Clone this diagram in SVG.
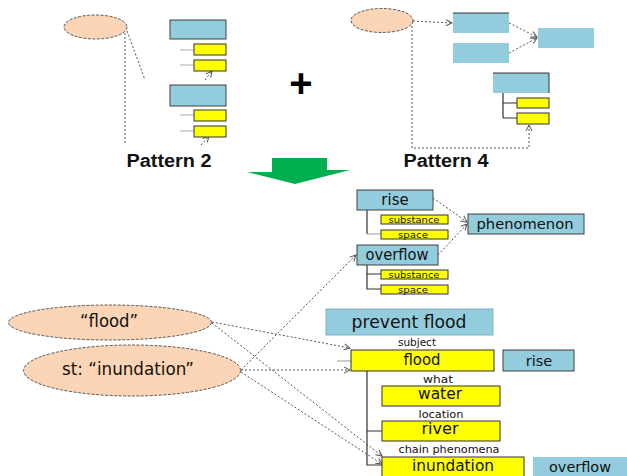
<svg xmlns="http://www.w3.org/2000/svg" width="627" height="476" viewBox="0 0 627 476">
<defs>
<marker id="arr" markerWidth="8" markerHeight="8" refX="7" refY="4" orient="auto" markerUnits="userSpaceOnUse">
<path d="M1,1 L7,4 L1,7" fill="none" stroke="#555" stroke-width="1"/>
</marker>
<style>
.ell{fill:#fbd5b5;stroke:#555;stroke-width:1;stroke-dasharray:3,1.5}
.blue{fill:#93cddd;stroke:#404040;stroke-width:1}
.bluenb{fill:#93cddd;stroke:none}
.yel{fill:#ffff00;stroke:#333;stroke-width:1}
.dot{fill:none;stroke:#555;stroke-width:1;stroke-dasharray:2,2}
.darr{fill:none;stroke:#555;stroke-width:1;stroke-dasharray:2,2;marker-end:url(#arr)}
.tree{fill:none;stroke:#333;stroke-width:1.2}
.treeg{fill:none;stroke:#aaa;stroke-width:1.2}
.t{font-family:"DejaVu Sans",Verdana,sans-serif;fill:#111;text-anchor:middle}
.pat{font-family:"Liberation Sans",Arial,sans-serif;font-weight:bold;font-size:18px;fill:#111;text-anchor:middle}
</style>
</defs>
<rect width="627" height="476" fill="#fff"/>

<g id="connectors">
<!-- Pattern 2 -->
<path class="dot" d="M127,31 L145,80"/>
<path class="darr" d="M205,80 L212,71"/>
<path class="dot" d="M125,33 L125,145"/>
<path class="darr" d="M201,145 L209,136"/>
<path class="treeg" d="M180,50 L194,50 M180,65 L194,65 M180,115 L194,115 M180,131 L194,131"/>
<!-- Pattern 4 -->
<path class="darr" d="M413,21 L452,23"/>
<path class="darr" d="M509,23 L537,37"/>
<path class="darr" d="M509,53 L537,38"/>
<path class="darr" d="M412,22 L412,148 L529,148 L529,125"/>
<path class="tree" d="M503,93 L503,118 M503,103 L517,103 M503,118 L517,118"/>
<!-- Bottom trees -->
<path class="tree" d="M367,210 L367,234"/>
<path class="treeg" d="M367,234 L381,234"/>
<path class="tree" d="M367,265 L367,289 L381,289 M367,274 L381,274"/>
<path class="tree" d="M367,371 L367,465 L382,465 M367,431 L382,431"/>
<path class="treeg" d="M337,361 L351,361"/>
<!-- Bottom arrows -->
<path class="darr" d="M433,198 L467,222"/>
<path class="darr" d="M438,255 L467,224"/>
<path class="darr" d="M241,370 L356,255"/>
<path class="darr" d="M212,322 L350,348"/>
<path class="darr" d="M212,323 L382,456"/>
<path class="darr" d="M241,370 L350,370"/>
<path class="darr" d="M241,372 L382,464"/>
</g>

<g id="pattern2">
<ellipse class="ell" cx="95.5" cy="27" rx="31.5" ry="12"/>
<rect class="blue" x="170" y="20" width="56" height="19"/>
<rect class="yel" x="194" y="44" width="32" height="11"/>
<rect class="yel" x="194" y="60" width="32" height="11"/>
<rect class="blue" x="170" y="85" width="56" height="21"/>
<rect class="yel" x="194" y="110" width="32" height="11"/>
<rect class="yel" x="194" y="126" width="32" height="11"/>
<text class="pat" x="169" y="167" textLength="85" lengthAdjust="spacingAndGlyphs">Pattern 2</text>
</g>

<g id="plus">
<text x="301" y="97" font-family="Liberation Sans, Arial, sans-serif" font-weight="bold" font-size="40" text-anchor="middle" fill="#000">+</text>
</g>

<g id="pattern4">
<ellipse class="ell" cx="382" cy="20.5" rx="31" ry="12"/>
<rect class="bluenb" x="453" y="13" width="56" height="20"/>
<path d="M453,13 L509,13" stroke="#333" stroke-width="1"/>
<rect class="bluenb" x="453" y="43" width="56" height="20"/>
<rect class="bluenb" x="538" y="28" width="56" height="20"/>
<rect class="bluenb" x="493" y="73" width="56" height="20"/>
<path d="M493,73 L549,73 L549,93" fill="none" stroke="#333" stroke-width="1"/>
<rect class="yel" x="517" y="98" width="32" height="10"/>
<rect class="yel" x="517" y="113" width="32" height="11"/>
<text class="pat" x="446" y="167" textLength="85" lengthAdjust="spacingAndGlyphs">Pattern 4</text>
</g>

<g id="green-arrow">
<polygon points="272,158 327,158 327,170 350,170 295,184 247,172 272,172" fill="#00b050"/>
</g>

<g id="rise-top">
<rect class="blue" x="357" y="190" width="76" height="20"/>
<text class="t" x="395" y="205" font-size="15">rise</text>
<rect class="yel" x="381" y="215" width="67" height="9"/>
<text class="t" x="414" y="223" font-size="9.5" textLength="51" lengthAdjust="spacingAndGlyphs">substance</text>
<rect class="yel" x="381" y="230" width="67" height="9"/>
<text class="t" x="413" y="238" font-size="9.5" textLength="30" lengthAdjust="spacingAndGlyphs">space</text>
</g>

<g id="overflow-top">
<rect class="blue" x="357" y="245" width="81" height="20"/>
<text class="t" x="397" y="260" font-size="15" textLength="63" lengthAdjust="spacingAndGlyphs">overflow</text>
<rect class="yel" x="381" y="270" width="67" height="9"/>
<text class="t" x="414" y="278" font-size="9.5" textLength="51" lengthAdjust="spacingAndGlyphs">substance</text>
<rect class="yel" x="381" y="285" width="67" height="9"/>
<text class="t" x="413" y="293" font-size="9.5" textLength="30" lengthAdjust="spacingAndGlyphs">space</text>
</g>

<g id="phenomenon">
<rect class="blue" x="468" y="214" width="116" height="20"/>
<text class="t" x="525" y="229" font-size="14.5" textLength="97" lengthAdjust="spacingAndGlyphs">phenomenon</text>
</g>

<g id="flood-ellipse">
<ellipse class="ell" cx="110" cy="322.5" rx="101.5" ry="17.5"/>
<text class="t" x="109" y="327" font-size="17" textLength="58" lengthAdjust="spacingAndGlyphs">“flood”</text>
</g>

<g id="inundation-ellipse">
<ellipse class="ell" cx="132" cy="370.5" rx="108.5" ry="25.5"/>
<text class="t" x="128" y="375" font-size="17" textLength="132" lengthAdjust="spacingAndGlyphs">st: “inundation”</text>
</g>

<g id="prevent-flood">
<rect x="326" y="309" width="167" height="26" fill="#93cddd" stroke="#7fb3c4" stroke-width="1"/>
<text class="t" x="409" y="328" font-size="17" textLength="115" lengthAdjust="spacingAndGlyphs">prevent flood</text>
</g>

<g id="flood-box">
<text class="t" x="417" y="346" font-size="10.5" fill="#333" textLength="38" lengthAdjust="spacingAndGlyphs">subject</text>
<rect class="yel" x="351" y="350" width="143" height="21"/>
<text class="t" x="422" y="365" font-size="15" textLength="37" lengthAdjust="spacingAndGlyphs">flood</text>
</g>

<g id="rise-bottom">
<rect class="blue" x="503" y="350" width="71" height="21"/>
<text class="t" x="539" y="366" font-size="14.5">rise</text>
</g>

<g id="water">
<text class="t" x="438" y="383" font-size="11" textLength="30" lengthAdjust="spacingAndGlyphs">what</text>
<rect class="yel" x="382" y="386" width="118" height="20"/>
<text class="t" x="440" y="399" font-size="15.5" textLength="44" lengthAdjust="spacingAndGlyphs">water</text>
</g>

<g id="river">
<text class="t" x="441" y="418" font-size="11" textLength="45" lengthAdjust="spacingAndGlyphs">location</text>
<rect class="yel" x="382" y="421" width="118" height="20"/>
<text class="t" x="440" y="434" font-size="15.5" textLength="37" lengthAdjust="spacingAndGlyphs">river</text>
</g>

<g id="inundation-box">
<text class="t" x="449" y="453" font-size="11" textLength="101" lengthAdjust="spacingAndGlyphs">chain phenomena</text>
<rect class="yel" x="382" y="457" width="142" height="22"/>
<text class="t" x="453" y="471" font-size="15.5" textLength="82" lengthAdjust="spacingAndGlyphs">inundation</text>
</g>

<g id="overflow-bottom">
<rect class="bluenb" x="533" y="457" width="94" height="22"/>
<text class="t" x="580" y="472" font-size="14.5" textLength="62" lengthAdjust="spacingAndGlyphs">overflow</text>
</g>
</svg>
